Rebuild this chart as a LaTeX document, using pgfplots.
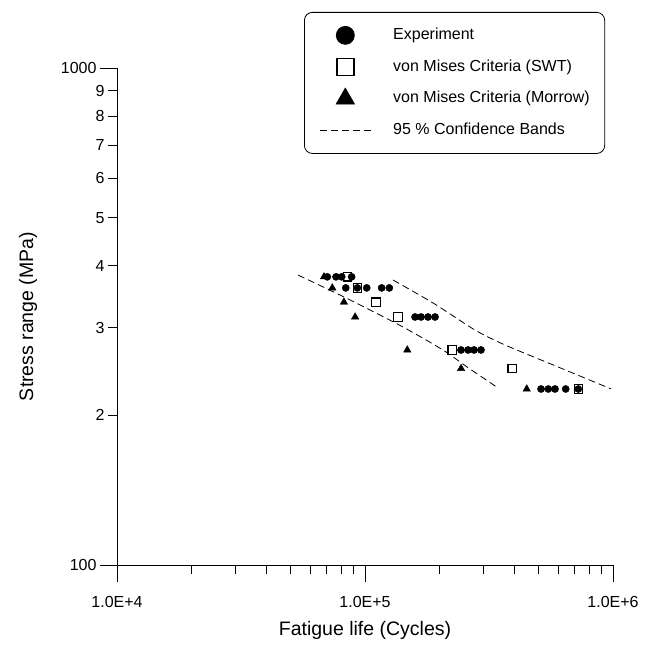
\documentclass[border=0pt]{standalone}
\usepackage{pgfplots}
\pgfplotsset{compat=1.18}
\usepackage{fontspec}
\setmainfont{Liberation Sans}

\pgfplotsset{
  markleg/.style={legend image code/.code={%
     \path[draw=none,fill=none] (0pt,-4pt) rectangle (51pt,4pt);
     \draw[overlay,sharp corners] plot coordinates {(25.5pt,0pt)};}},
  dashleg/.style={legend image code/.code={%
     \path[draw=none,fill=none] (0pt,-4pt) rectangle (51pt,4pt);
     \draw[sharp corners] (0pt,0pt) -- (51pt,0pt);}},
}

\begin{document}
\begin{tikzpicture}
\begin{axis}[
  scale only axis, width=496pt, height=497pt,
  xmode=log, ymode=log,
  xmin=1e4, xmax=1e6, ymin=100, ymax=1000,
  axis lines=left, axis line style={-, line width=0.8pt},
  tick align=outside, major tick length=17pt, minor tick length=9pt,
  every tick/.style={black, line width=0.8pt},
  xtick={1e4,1e5,1e6}, xticklabels={1.0E+4,1.0E+5,1.0E+6},
  ytick={100,1000}, yticklabels={100,1000},
  extra y ticks={200,300,400,500,600,700,800,900},
  extra y tick labels={2,3,4,5,6,7,8,9},
  extra y tick style={major tick length=9pt},
  tick label style={font=\fontsize{16}{19}\selectfont},
  xticklabel style={yshift=-11pt},
  xlabel={Fatigue life (Cycles)}, ylabel={Stress range (MPa)},
  label style={font=\fontsize{19.5}{23}\selectfont},
  xlabel style={at={(axis description cs:0.5,-0.1308)}, anchor=center},
  ylabel style={at={(axis description cs:-0.1794,0.5)}, anchor=center},
  clip=false,
  legend cell align=left,
  legend style={at={(0.984,1.1127)}, anchor=north east, draw=black,
    line width=0.8pt, rounded corners=8pt, font=\fontsize{16}{19}\selectfont,
    inner xsep=15pt, inner ysep=16pt, row sep=17.7pt, column sep=22pt,
    nodes={inner sep=0pt, text height=11pt, text depth=3pt}},
]
\addlegendimage{only marks, mark=*, mark size=9pt, black, markleg}
\addlegendentry{Experiment}
\addlegendimage{only marks, mark=square*, mark size=8.4pt, mark options={fill=white, draw=black, line width=1.6pt}, markleg}
\addlegendentry{von Mises Criteria (SWT)}
\addlegendimage{only marks, mark=triangle*, mark size=10.5pt, black, markleg}
\addlegendentry{von Mises Criteria (Morrow)}
\addlegendimage{black, line width=0.8pt, dash pattern=on 7pt off 4pt, dashleg}
\addlegendentry{95 \% Confidence Bands}

% SWT
\addplot[forget plot, only marks, mark=square*, mark size=4.2pt, mark options={fill=white, draw=black, line width=1.2pt}] coordinates {
(85100,380) (93100,361) (110700,338) (135900,315.5) (224800,270.8) (392400,248.5) (724400,226)};
% Experiment
\addplot[forget plot, only marks, mark=*, mark size=3.6pt, black] coordinates {
(70470,380) (76400,380) (80540,380) (88300,380)
(83600,361) (93100,361) (101600,361) (116700,361) (125300,361)
(159100,315.5) (168200,315.5) (179500,315.5) (191600,315.5)
(243800,270.8) (260200,270.8) (275100,270.8) (293500,270.8)
(512500,226) (548300,226) (583400,226) (644300,226) (724400,226)};
% Morrow
\addplot[forget plot, only marks, mark=triangle*, mark size=4.3pt, black] coordinates {
(68330,380) (73800,361) (82200,338) (91200,315.5) (148100,270.8) (243900,248.5) (448800,226)};
% confidence bands
\addplot[forget plot, black, line width=0.8pt, dash pattern=on 7pt off 4pt, smooth, tension=0.4] coordinates {
(53690,383.2) (87000,341.5) (142300,301.2) (206300,270.7) (257800,250.3) (343900,227.1)};
\addplot[forget plot, black, line width=0.8pt, dash pattern=on 7pt off 4pt, smooth, tension=0.4] coordinates {
(129700,374.5) (188000,336.7) (277600,297.0) (366800,277.1) (600100,250.3) (981600,226.1)};

\path (rel axis cs:-0.2359,-0.165) rectangle (rel axis cs:1.0625,1.1368);
\end{axis}
\end{tikzpicture}
\end{document}
